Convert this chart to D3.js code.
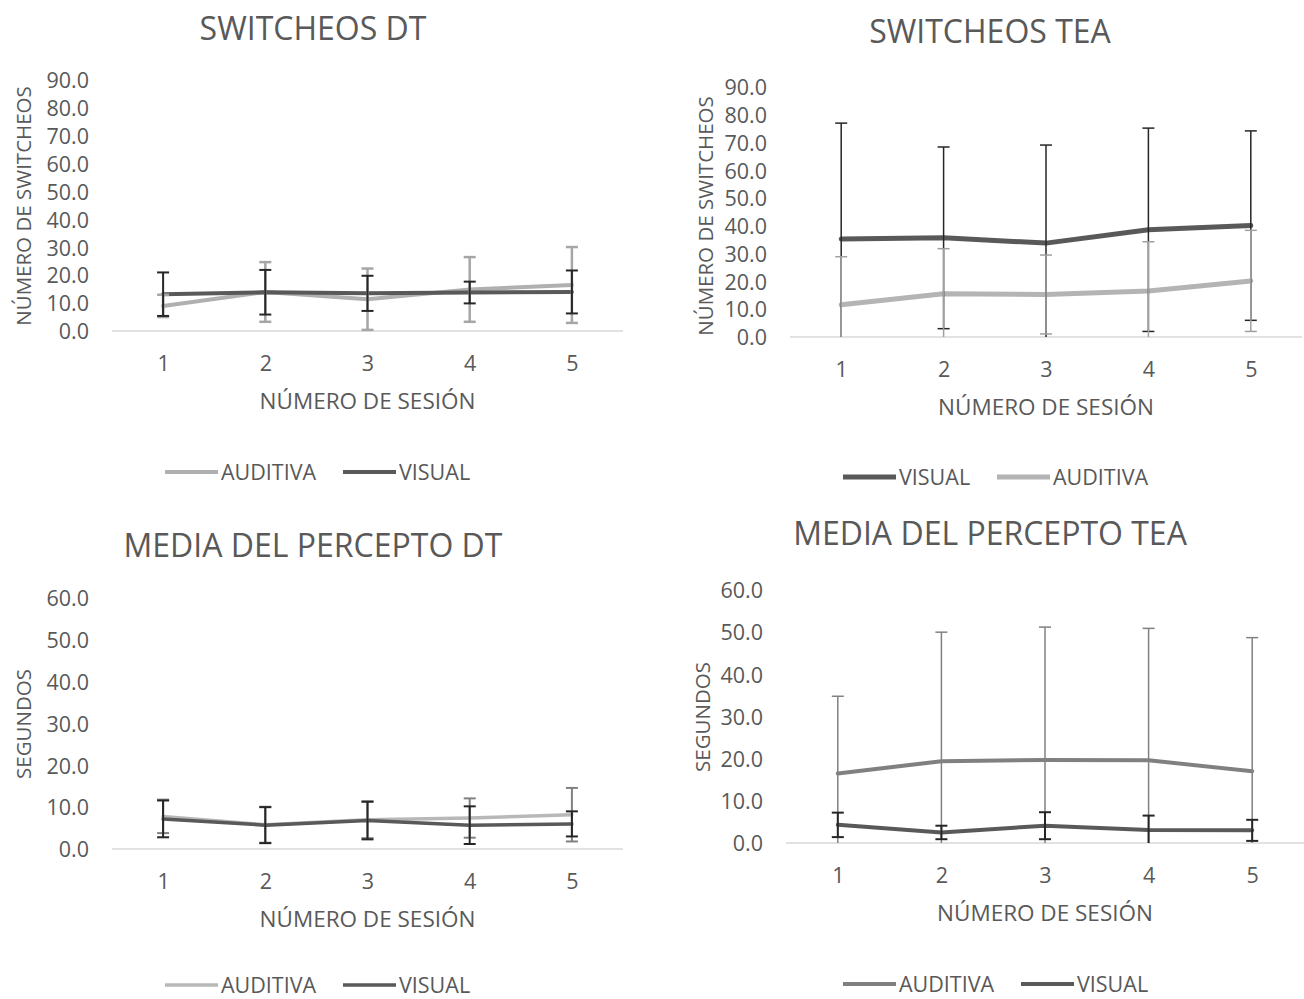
<!DOCTYPE html>
<html>
<head>
<meta charset="utf-8">
<script src="https://cdn.jsdelivr.net/npm/d3@7"></script>
<style>
  html, body { margin: 0; padding: 0; background: #fff; }
  svg { display: block; font-family: "Open Sans", "Noto Sans", sans-serif; }
</style>
</head>
<body>
<svg id="chart" width="1304" height="999"></svg>
<script>
// Sessions shared by all four charts
const sessions = [1, 2, 3, 4, 5];

// SWITCHEOS DT — means and standard deviations
const switchDtAuditiva   = [9.0, 14.0, 11.4, 14.9, 16.5];
const switchDtAuditivaSd = [4.0, 10.7, 11.0, 11.6, 13.6];
const switchDtVisual     = [13.2, 13.9, 13.5, 13.8, 14.0];
const switchDtVisualSd   = [7.8, 8.0, 6.3, 3.9, 7.7];

// SWITCHEOS TEA
const switchTeaVisual     = [35.3, 35.7, 33.8, 38.6, 40.1];
const switchTeaVisualSd   = [41.7, 32.7, 35.3, 36.6, 34.1];
const switchTeaAuditiva   = [11.6, 15.6, 15.3, 16.6, 20.2];
const switchTeaAuditivaSd = [17.3, 16.2, 14.2, 17.7, 18.2];

// MEDIA DEL PERCEPTO DT (segundos)
const perceptDtAuditiva   = [7.8, 5.8, 7.0, 7.4, 8.2];
const perceptDtAuditivaSd = [4.0, 4.3, 4.4, 4.7, 6.4];
const perceptDtVisual     = [7.2, 5.7, 6.8, 5.7, 6.0];
const perceptDtVisualSd   = [4.4, 4.3, 4.5, 4.5, 3.0];

// MEDIA DEL PERCEPTO TEA (segundos)
const perceptTeaAuditiva   = [16.5, 19.4, 19.7, 19.6, 17.0];
const perceptTeaAuditivaSd = [18.3, 30.6, 31.5, 31.3, 31.7];
const perceptTeaVisual     = [4.3, 2.5, 4.1, 3.1, 3.0];
const perceptTeaVisualSd   = [2.9, 1.6, 3.2, 3.4, 2.5];

// Axis tick values
const switchTicks = [0, 10, 20, 30, 40, 50, 60, 70, 80, 90];
const perceptTicks = [0, 10, 20, 30, 40, 50, 60];

const TEXT = "#595959";
const LABEL_SIZE = "21.5px";
const YTITLE_SIZE = "20.5px";
const XTITLE_SIZE = "22.5px";
const TITLE_SIZE = "32px";
const svg = d3.select("#chart");

function drawPanel(p) {
  const g = svg.append("g");
  const x = d3.scalePoint().domain(sessions).range([p.left, p.right]).padding(0.5);
  const y = d3.scaleLinear().domain([0, p.max]).range([p.bottom, p.top]).clamp(true);

  // title
  g.append("text").attr("x", p.titleX).attr("y", p.titleY)
    .attr("text-anchor", "middle").attr("fill", TEXT)
    .style("font-size", TITLE_SIZE).text(p.title);

  // y axis
  const ya = g.append("g").attr("transform", `translate(${p.left - 23},0)`)
    .call(d3.axisLeft(y).tickValues(p.ticks).tickFormat(d3.format(".1f")).tickSize(0).tickPadding(0))
    .attr("font-family", null).attr("font-size", null);
  ya.select(".domain").remove();
  ya.selectAll("text").attr("fill", TEXT).style("font-size", LABEL_SIZE).attr("dy", "0.36em");

  // y axis title
  g.append("text")
    .attr("transform", `translate(${p.yTitleX},${p.yTitleY}) rotate(-90)`)
    .attr("text-anchor", "middle").attr("dy", "0.36em").attr("fill", TEXT)
    .style("font-size", YTITLE_SIZE).text(p.yTitle);

  // x axis baseline and labels
  g.append("line").attr("x1", p.left).attr("x2", p.right)
    .attr("y1", p.bottom).attr("y2", p.bottom)
    .attr("stroke", "#d9d9d9").attr("stroke-width", 1.5);
  const xa = g.append("g").attr("transform", `translate(0,${p.bottom + 32})`)
    .call(d3.axisBottom(x).tickSize(0).tickPadding(0))
    .attr("font-family", null).attr("font-size", null);
  xa.select(".domain").remove();
  xa.selectAll("text").attr("fill", TEXT).style("font-size", LABEL_SIZE).attr("dy", "0.36em");

  g.append("text").attr("x", (p.left + p.right) / 2).attr("y", p.bottom + 78)
    .attr("text-anchor", "middle").attr("fill", TEXT)
    .style("font-size", XTITLE_SIZE).text("NÚMERO DE SESIÓN");

  const line = d3.line().x((d, i) => x(sessions[i])).y(d => y(d));

  // series lines
  p.series.forEach(s => {
    g.append("path").datum(s.values).attr("d", line)
      .attr("fill", "none").attr("stroke", s.color)
      .attr("stroke-width", s.width).attr("stroke-linejoin", "round")
      .attr("stroke-linecap", "round");
  });

  // error bars (mean ± sd), clipped at the axis minimum
  p.series.forEach(s => {
    const eb = g.append("g").attr("stroke", s.errColor).attr("stroke-width", s.errWidth);
    s.values.forEach((v, i) => {
      const cx = x(sessions[i]);
      const hi = v + s.sd[i], lo = v - s.sd[i];
      eb.append("line").attr("x1", cx).attr("x2", cx).attr("y1", y(hi)).attr("y2", y(lo));
      eb.append("line").attr("x1", cx - 6).attr("x2", cx + 6).attr("y1", y(hi)).attr("y2", y(hi));
      if (lo >= 0) {
        eb.append("line").attr("x1", cx - 6).attr("x2", cx + 6).attr("y1", y(lo)).attr("y2", y(lo));
      }
    });
  });

  // legend
  p.legend.forEach(l => {
    const s = p.series.find(d => d.name === l.name);
    g.append("line").attr("x1", l.x).attr("x2", l.x + 53)
      .attr("y1", p.legendY).attr("y2", p.legendY)
      .attr("stroke", s.color).attr("stroke-width", s.width);
    g.append("text").attr("x", l.x + 56).attr("y", p.legendY).attr("dy", "0.36em")
      .attr("fill", TEXT).style("font-size", LABEL_SIZE).text(s.name);
  });
}

const LIGHT = "#b0b0b0", DARK = "#595959", ERR_DARK = "#262626";

drawPanel({
  title: "SWITCHEOS DT", titleX: 313, titleY: 40,
  yTitle: "NÚMERO DE SWITCHEOS", yTitleX: 24, yTitleY: 206,
  left: 112, right: 623, top: 80, bottom: 331, max: 90, ticks: switchTicks,
  legendY: 472,
  series: [
    { name: "AUDITIVA", values: switchDtAuditiva, sd: switchDtAuditivaSd, color: LIGHT, width: 4, errColor: "#a6a6a6", errWidth: 2.5 },
    { name: "VISUAL", values: switchDtVisual, sd: switchDtVisualSd, color: DARK, width: 4, errColor: ERR_DARK, errWidth: 2 }
  ],
  legend: [{ name: "AUDITIVA", x: 165 }, { name: "VISUAL", x: 343 }]
});

drawPanel({
  title: "SWITCHEOS TEA", titleX: 990, titleY: 43,
  yTitle: "NÚMERO DE SWITCHEOS", yTitleX: 706, yTitleY: 216,
  left: 790, right: 1302, top: 87, bottom: 337, max: 90, ticks: switchTicks,
  legendY: 477,
  series: [
    { name: "VISUAL", values: switchTeaVisual, sd: switchTeaVisualSd, color: DARK, width: 5, errColor: ERR_DARK, errWidth: 1.5 },
    { name: "AUDITIVA", values: switchTeaAuditiva, sd: switchTeaAuditivaSd, color: "#b4b4b4", width: 5, errColor: "#a0a0a0", errWidth: 1.5 }
  ],
  legend: [{ name: "VISUAL", x: 843 }, { name: "AUDITIVA", x: 997 }]
});

drawPanel({
  title: "MEDIA DEL PERCEPTO DT", titleX: 313, titleY: 557,
  yTitle: "SEGUNDOS", yTitleX: 24, yTitleY: 724,
  left: 112, right: 623, top: 598, bottom: 849, max: 60, ticks: perceptTicks,
  legendY: 985,
  series: [
    { name: "AUDITIVA", values: perceptDtAuditiva, sd: perceptDtAuditivaSd, color: "#b8b8b8", width: 3.5, errColor: "#808080", errWidth: 2 },
    { name: "VISUAL", values: perceptDtVisual, sd: perceptDtVisualSd, color: DARK, width: 3.5, errColor: ERR_DARK, errWidth: 2 }
  ],
  legend: [{ name: "AUDITIVA", x: 165 }, { name: "VISUAL", x: 343 }]
});

drawPanel({
  title: "MEDIA DEL PERCEPTO TEA", titleX: 990, titleY: 545,
  yTitle: "SEGUNDOS", yTitleX: 703, yTitleY: 717,
  left: 786, right: 1304, top: 590, bottom: 843, max: 60, ticks: perceptTicks,
  legendY: 984,
  series: [
    { name: "AUDITIVA", values: perceptTeaAuditiva, sd: perceptTeaAuditivaSd, color: "#808080", width: 4, errColor: "#808080", errWidth: 1.5 },
    { name: "VISUAL", values: perceptTeaVisual, sd: perceptTeaVisualSd, color: DARK, width: 4, errColor: ERR_DARK, errWidth: 2 }
  ],
  legend: [{ name: "AUDITIVA", x: 843 }, { name: "VISUAL", x: 1021 }]
});
</script>
</body>
</html>
